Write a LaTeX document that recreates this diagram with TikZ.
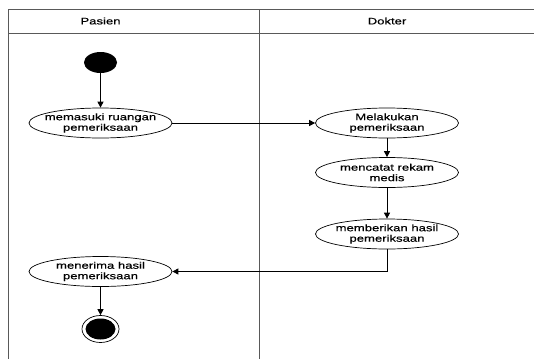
\documentclass[tikz,border=0pt]{standalone}
\usepackage{fontspec}
\setmainfont{Liberation Sans}[FakeStretch=1.38, FakeBold=0.4]
\usetikzlibrary{shapes.geometric,arrows.meta}

\tikzset{
  lane/.style={draw=black!65, line width=1pt},
  act/.style={ellipse, draw=black, fill=white, line width=0.7pt,
    minimum width=143pt, minimum height=30pt, inner xsep=-20pt, inner ysep=-1pt,
    align=center, font=\fontsize{9.5}{10.5}\selectfont},
  lanetitle/.style={font=\fontsize{9.5}{10.5}\selectfont},
  flow/.style={draw=black, line width=0.8pt, -{Triangle[length=6pt,width=6pt]}},
  dot/.style={ellipse, fill=black, inner sep=0pt}
}

\begin{document}
\begin{tikzpicture}[x=1pt, y=-1pt]
  \useasboundingbox (0,0) rectangle (534,359);
  \fill[white] (0,0) rectangle (534,359);

  % swimlane frame
  \draw[lane] (534,9.5) -- (8,9.5) -- (8,359);
  \draw[lane] (8,33) -- (534,33);
  \draw[lane] (259,9.5) -- (259,359);
  \node[lanetitle] (hPasien) at (100.5,21) {Pasien};
  \node[lanetitle] (hDokter) at (387,21) {Dokter};

  % initial node
  \node[dot, minimum width=33pt, minimum height=21pt] (start) at (100.5,62.5) {};

  % activities
  \node[act] (a1) at (100.5,123) {memasuki ruangan\\pemeriksaan};
  \node[act] (a2) at (387,123) {Melakukan\\pemeriksaan};
  \node[act] (a3) at (387,172.5) {mencatat rekam\\medis};
  \node[act] (a4) at (387,234) {memberikan hasil\\pemeriksaan};
  \node[act] (a5) at (100.5,271.5) {menerima hasil\\pemeriksaan};

  % final node
  \node[ellipse, draw=black, fill=white, line width=0.7pt, inner sep=0pt,
        minimum width=37pt, minimum height=27pt] (stop) at (100.5,329) {};
  \node[dot, minimum width=30pt, minimum height=21pt] (stopdot) at (stop.center) {};

  % control flow
  \draw[flow] (start.south) -- (a1.north);
  \draw[flow] (a1.east) -- (a2.west);
  \draw[flow] (a2.south) -- (a3.north);
  \draw[flow] (a3.south) -- (a4.north);
  \draw[flow] (a4.south) |- (a5.east);
  \draw[flow] (a5.south) -- (stop.north);
\end{tikzpicture}
\end{document}
